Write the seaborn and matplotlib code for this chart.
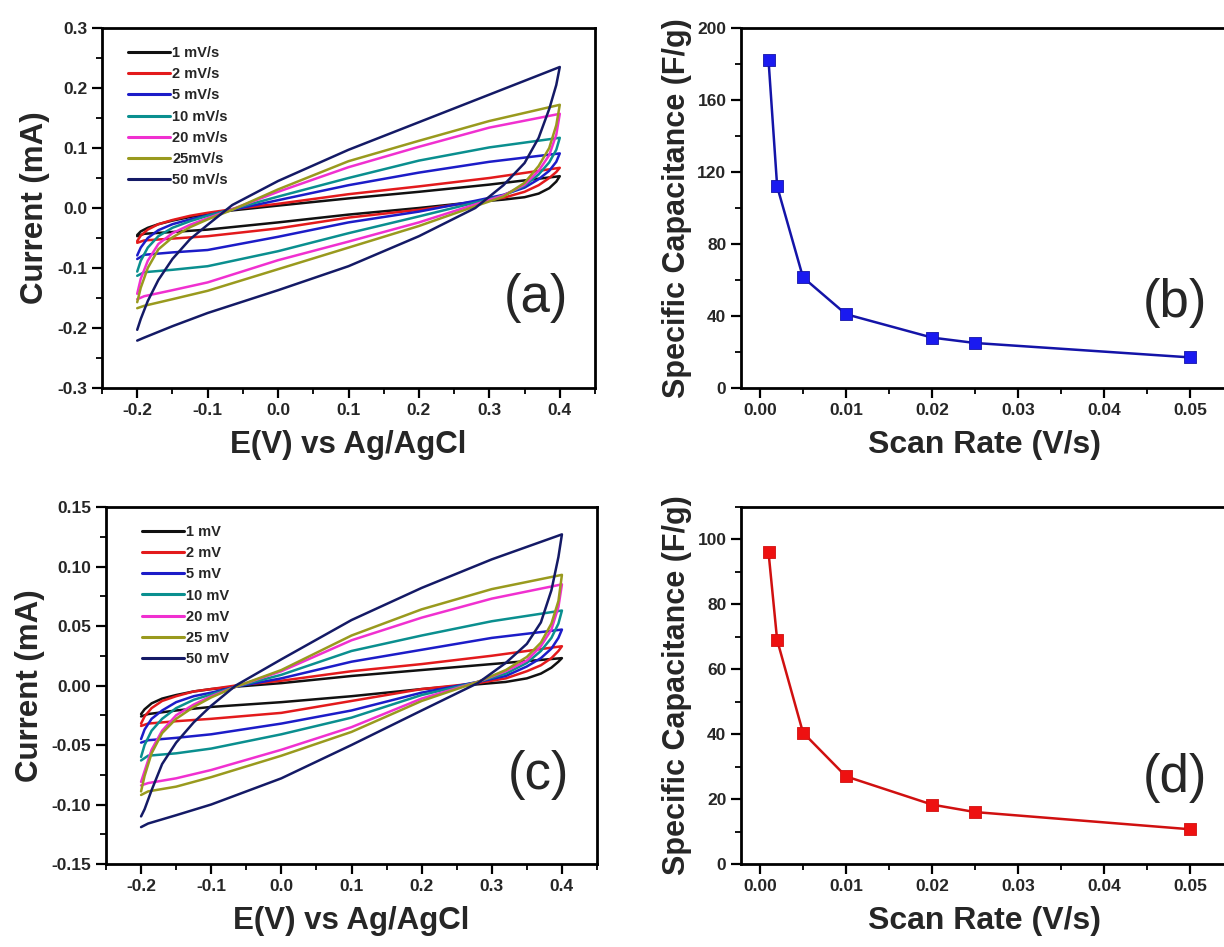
import numpy as np
import pandas as pd
import matplotlib
matplotlib.use("Agg")
import matplotlib.pyplot as plt
from matplotlib.ticker import MultipleLocator, FormatStrFormatter
import seaborn as sns

# ---------------- data ----------------
rates_a = ["1 mV/s", "2 mV/s", "5 mV/s", "10 mV/s", "20 mV/s", "25mV/s", "50 mV/s"]
rates_c = ["1 mV", "2 mV", "5 mV", "10 mV", "20 mV", "25 mV", "50 mV"]
colors = ["#111111", "#e31a1c", "#1c1cc8", "#0a8f8f", "#f030d0", "#999a1e", "#141a66"]

# anodic (forward) branch potentials and reverse branch potentials
E_fwd = [-0.2, -0.195, -0.185, -0.17, -0.15, -0.125, -0.1, -0.065, 0.0, 0.1, 0.2, 0.3, 0.4]
E_rev = [0.4, 0.395, 0.385, 0.37, 0.35, 0.32, 0.28, 0.2, 0.1, 0.0, -0.1, -0.15, -0.19, -0.2]

# panel (a) currents (mA)
a_fwd = [
    [-0.045, -0.039, -0.033, -0.027, -0.021, -0.015, -0.010, -0.004, 0.004, 0.016, 0.027, 0.039, 0.053],
    [-0.055, -0.046, -0.036, -0.027, -0.020, -0.013, -0.008, -0.002, 0.007, 0.023, 0.036, 0.050, 0.067],
    [-0.079, -0.066, -0.050, -0.037, -0.027, -0.019, -0.012, -0.003, 0.013, 0.038, 0.059, 0.077, 0.091],
    [-0.106, -0.088, -0.066, -0.047, -0.033, -0.022, -0.013, -0.002, 0.019, 0.050, 0.079, 0.101, 0.117],
    [-0.143, -0.118, -0.088, -0.060, -0.042, -0.028, -0.017, -0.002, 0.027, 0.068, 0.102, 0.134, 0.157],
    [-0.157, -0.133, -0.100, -0.069, -0.049, -0.032, -0.019, -0.003, 0.031, 0.078, 0.112, 0.145, 0.172],
    [-0.203, -0.185, -0.155, -0.120, -0.085, -0.052, -0.028, 0.005, 0.045, 0.097, 0.143, 0.189, 0.235],
]
a_rev = [
    [0.053, 0.044, 0.033, 0.024, 0.018, 0.014, 0.010, 0.000, -0.011, -0.024, -0.036, -0.040, -0.043, -0.047],
    [0.067, 0.060, 0.050, 0.038, 0.027, 0.017, 0.010, -0.003, -0.016, -0.034, -0.047, -0.051, -0.054, -0.058],
    [0.091, 0.077, 0.062, 0.048, 0.034, 0.022, 0.012, -0.006, -0.024, -0.048, -0.070, -0.074, -0.078, -0.085],
    [0.117, 0.097, 0.076, 0.056, 0.037, 0.021, 0.009, -0.014, -0.042, -0.072, -0.097, -0.103, -0.107, -0.113],
    [0.157, 0.122, 0.088, 0.062, 0.039, 0.021, 0.006, -0.024, -0.056, -0.087, -0.124, -0.137, -0.147, -0.152],
    [0.172, 0.138, 0.100, 0.070, 0.042, 0.019, 0.003, -0.030, -0.066, -0.102, -0.138, -0.152, -0.163, -0.167],
    [0.235, 0.205, 0.165, 0.117, 0.075, 0.038, 0.000, -0.047, -0.097, -0.137, -0.175, -0.197, -0.216, -0.221],
]

# panel (c) currents (mA)
c_fwd = [
    [-0.024, -0.020, -0.015, -0.011, -0.008, -0.005, -0.003, -0.001, 0.002, 0.008, 0.013, 0.018, 0.023],
    [-0.032, -0.026, -0.019, -0.013, -0.009, -0.005, -0.003, 0.000, 0.004, 0.012, 0.018, 0.025, 0.033],
    [-0.045, -0.037, -0.028, -0.021, -0.014, -0.009, -0.006, -0.001, 0.006, 0.020, 0.030, 0.040, 0.047],
    [-0.060, -0.050, -0.038, -0.028, -0.019, -0.012, -0.0075, -0.001, 0.009, 0.029, 0.042, 0.054, 0.063],
    [-0.081, -0.072, -0.054, -0.038, -0.025, -0.016, -0.009, -0.001, 0.012, 0.038, 0.057, 0.073, 0.085],
    [-0.089, -0.076, -0.057, -0.040, -0.028, -0.018, -0.010, -0.001, 0.013, 0.042, 0.064, 0.081, 0.093],
    [-0.110, -0.104, -0.088, -0.066, -0.048, -0.031, -0.017, 0.000, 0.022, 0.055, 0.082, 0.106, 0.127],
]
c_rev = [
    [0.023, 0.020, 0.015, 0.010, 0.006, 0.003, 0.001, -0.003, -0.009, -0.014, -0.018, -0.021, -0.024, -0.026],
    [0.033, 0.029, 0.023, 0.017, 0.012, 0.006, 0.002, -0.003, -0.013, -0.023, -0.028, -0.030, -0.032, -0.034],
    [0.047, 0.040, 0.031, 0.023, 0.016, 0.008, 0.003, -0.006, -0.021, -0.032, -0.041, -0.044, -0.046, -0.048],
    [0.063, 0.052, 0.040, 0.029, 0.019, 0.010, 0.003, -0.008, -0.027, -0.041, -0.053, -0.057, -0.059, -0.063],
    [0.085, 0.066, 0.047, 0.033, 0.021, 0.012, 0.003, -0.011, -0.035, -0.054, -0.071, -0.078, -0.082, -0.084],
    [0.093, 0.071, 0.052, 0.036, 0.024, 0.013, 0.003, -0.013, -0.039, -0.059, -0.077, -0.085, -0.089, -0.092],
    [0.127, 0.108, 0.080, 0.053, 0.035, 0.019, 0.002, -0.021, -0.050, -0.078, -0.100, -0.109, -0.116, -0.119],
]

scan_rate = [0.001, 0.002, 0.005, 0.01, 0.02, 0.025, 0.05]
cap_b = [182, 112, 61.5, 41, 28, 25, 17]
cap_d = [96, 69, 40.5, 27, 18.3, 16, 10.7]

# ---------------- style ----------------
sns.set_theme(style="white")
plt.rcParams["font.family"] = ["Liberation Sans", "DejaVu Sans"]
plt.rcParams["axes.unicode_minus"] = False

W, H = 1224, 947
fig = plt.figure(figsize=(W / 100, H / 100), dpi=100)


def px_axes(l, t, r, b):
    return fig.add_axes([l / W, 1 - b / H, (r - l) / W, (b - t) / H])


axA = px_axes(102, 28, 595, 388)
axB = px_axes(741, 28, 1229, 388)
axC = px_axes(106, 507, 597, 864)
axD = px_axes(741, 507, 1229, 864)


def style_axes(ax):
    for s in ax.spines.values():
        s.set_linewidth(2.0)
        s.set_color("black")
    ax.tick_params(which="major", direction="out", length=7, width=1.6,
                   labelsize=12.5, color="black", bottom=True, left=True)
    ax.tick_params(which="minor", direction="out", length=4, width=1.3,
                   color="black", bottom=True, left=True)
    for lab in ax.get_xticklabels() + ax.get_yticklabels():
        lab.set_fontweight("bold")


def cv_frame(names, fwd, rev):
    rows = []
    for name, f, r in zip(names, fwd, rev):
        k = 0
        for e, i in zip(E_fwd, f):
            rows.append((name, k, e, i)); k += 1
        for e, i in zip(E_rev, r):
            rows.append((name, k, e, i)); k += 1
    return pd.DataFrame(rows, columns=["rate", "order", "E", "I"])


def cv_panel(ax, names, fwd, rev, ylim, ymaj, ymin, letter, legx):
    df = cv_frame(names, fwd, rev)
    sns.lineplot(data=df, x="E", y="I", hue="rate", hue_order=names,
                 palette=dict(zip(names, colors)), sort=False, estimator=None,
                 linewidth=1.8, ax=ax)
    ax.set_xlim(-0.25, 0.45)
    ax.set_ylim(*ylim)
    ax.xaxis.set_minor_locator(MultipleLocator(0.05))
    ax.yaxis.set_minor_locator(MultipleLocator(ymin))
    ax.set_xticks([-0.2, -0.1, 0.0, 0.1, 0.2, 0.3, 0.4])
    ax.xaxis.set_major_formatter(FormatStrFormatter("%.1f"))
    ax.set_xlabel("E(V) vs Ag/AgCl", fontsize=22.5, fontweight="bold", labelpad=9)
    ax.set_ylabel("Current (mA)", fontsize=22.5, fontweight="bold", labelpad=5)
    leg = ax.legend(loc="upper left", bbox_to_anchor=(legx, 0.975), frameon=False,
                    prop={"size": 10.5, "weight": "bold"}, handlelength=2.9,
                    handletextpad=0.15, labelspacing=0.5, borderaxespad=0.2)
    for ln in leg.get_lines():
        ln.set_linewidth(2.2)
    ax.text(0.88, 0.25, letter, transform=ax.transAxes, fontsize=38,
            ha="center", va="center")


def cap_panel(ax, y, ylim, ymin, lcol, mcol, letter, ly):
    sns.lineplot(x=scan_rate, y=y, color=lcol, linewidth=1.8, ax=ax)
    sns.scatterplot(x=scan_rate, y=y, marker="s", s=75, color=mcol,
                    edgecolor=lcol, linewidth=0.6, ax=ax, zorder=5)
    ax.set_xlim(-0.0022, 0.0545)
    ax.set_ylim(*ylim)
    ax.xaxis.set_minor_locator(MultipleLocator(0.005))
    ax.yaxis.set_minor_locator(MultipleLocator(ymin))
    ax.set_xticks([0.0, 0.01, 0.02, 0.03, 0.04, 0.05])
    ax.xaxis.set_major_formatter(FormatStrFormatter("%.2f"))
    ax.set_xlabel("Scan Rate (V/s)", fontsize=23, fontweight="bold", labelpad=9)
    ax.set_ylabel("Specific Capacitance (F/g)", fontsize=22, fontweight="bold", labelpad=4)
    ax.text(0.0482, ly, letter, fontsize=38, ha="center", va="center")


cv_panel(axA, rates_a, a_fwd, a_rev, (-0.3, 0.3), 0.1, 0.05, "(a)", 0.035)
cv_panel(axC, rates_c, c_fwd, c_rev, (-0.15, 0.15), 0.05, 0.025, "(c)", 0.055)
axA.set_yticks(np.round(np.arange(-0.3, 0.31, 0.1), 2))
axA.yaxis.set_major_formatter(FormatStrFormatter("%.1f"))
axC.set_yticks(np.round(np.arange(-0.15, 0.151, 0.05), 3))
axC.yaxis.set_major_formatter(FormatStrFormatter("%.2f"))

cap_panel(axB, cap_b, (0, 200), 20, "#1414a8", "#1a1af0", "(b)", 47)
cap_panel(axD, cap_d, (0, 110), 10, "#d01010", "#ee1111", "(d)", 26.6)
axB.set_yticks([0, 40, 80, 120, 160, 200])
axD.set_yticks([0, 20, 40, 60, 80, 100])
axB.yaxis.set_major_formatter(FormatStrFormatter("%d"))
axD.yaxis.set_major_formatter(FormatStrFormatter("%d"))

for ax in (axA, axB, axC, axD):
    style_axes(ax)

fig.savefig("out.png", dpi=100)
